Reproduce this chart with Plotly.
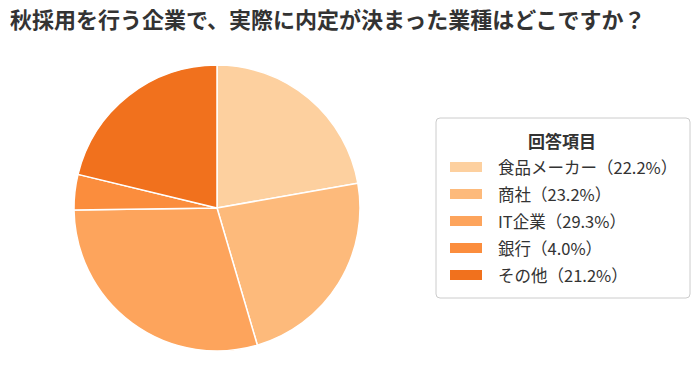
import plotly.graph_objects as go

categories = ["食品メーカー", "商社", "IT企業", "銀行", "その他"]
values = [22.2, 23.2, 29.3, 4.0, 21.2]
colors = ["#FDD09F", "#FDBA7B", "#FDA45C", "#FB8D3D", "#F1711D"]
title_text = "秋採用を行う企業で、実際に内定が決まった業種はどこですか？"
legend_title = "回答項目"

W, H = 699, 376
FONT = "Noto Sans CJK JP"

fig = go.Figure()
fig.add_trace(go.Pie(
    labels=categories,
    values=values,
    sort=False,
    direction="clockwise",
    rotation=0,
    textinfo="none",
    hoverinfo="label+percent",
    marker=dict(colors=colors, line=dict(color="white", width=1.5)),
    domain=dict(x=[74 / W, 360 / W], y=[24 / H, 312 / H]),
    showlegend=False,
))

def px(x):
    return x / W

def py(y):
    return 1 - y / H

shapes = []
annotations = []
# legend box (rounded)
x0, y0, x1, y1 = 436, 118, 690, 298
r = 4
path = (f"M{px(x0+r)},{py(y0)} L{px(x1-r)},{py(y0)} Q{px(x1)},{py(y0)} {px(x1)},{py(y0+r)} "
        f"L{px(x1)},{py(y1-r)} Q{px(x1)},{py(y1)} {px(x1-r)},{py(y1)} "
        f"L{px(x0+r)},{py(y1)} Q{px(x0)},{py(y1)} {px(x0)},{py(y1-r)} "
        f"L{px(x0)},{py(y0+r)} Q{px(x0)},{py(y0)} {px(x0+r)},{py(y0)} Z")
shapes.append(dict(type="path", xref="paper", yref="paper", path=path,
                   line=dict(color="#CCCCCC", width=1), fillcolor="white"))
annotations.append(dict(xref="paper", yref="paper", x=px(562), y=py(140),
                        text=f"<b>{legend_title}</b>", showarrow=False,
                        xanchor="center", yanchor="middle",
                        font=dict(family=FONT, size=17, color="#333333")))
total = sum(values)
for i, (c, v, col) in enumerate(zip(categories, values, colors)):
    yc = 167 + i * 27
    shapes.append(dict(type="rect", xref="paper", yref="paper",
                       x0=px(450), x1=px(482), y0=py(yc - 5), y1=py(yc + 5),
                       fillcolor=col, line=dict(width=0)))
    annotations.append(dict(xref="paper", yref="paper", x=px(496), y=py(yc),
                            text=f"{c}（{v / total * 100:.1f}%）", showarrow=False,
                            xanchor="left", yanchor="middle",
                            font=dict(family=FONT, size=16.5, color="#333333")))

fig.update_layout(
    width=W, height=H,
    margin=dict(l=0, r=0, t=0, b=0),
    paper_bgcolor="white",
    plot_bgcolor="white",
    font=dict(family=FONT, color="#333333"),
    title=dict(text=f"<b>{title_text}</b>", x=10 / W, xanchor="left",
               y=1 - 20 / H, yanchor="middle", xref="paper", yref="paper",
               font=dict(family=FONT, size=22, color="#333333")),
    shapes=shapes,
    annotations=annotations,
)

fig.write_html("out.html")
